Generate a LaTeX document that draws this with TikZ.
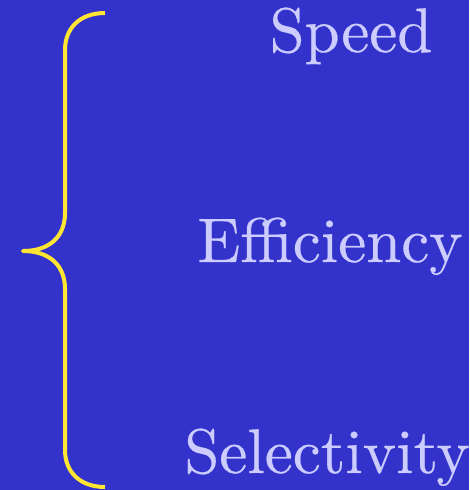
\documentclass[tikz,border=0pt]{standalone}
\usepackage{fontspec}
\newfontfamily\lmx{lmroman10-regular.otf}[FakeBold=0.4]
\definecolor{bgblue}{RGB}{51,51,204}
\definecolor{braceyellow}{RGB}{255,230,51}
\definecolor{txtlav}{RGB}{204,204,255}
\begin{document}
\begin{tikzpicture}[x=1pt,y=1pt,
  lbl/.style={anchor=base,inner sep=0pt,text=txtlav,font=\lmx\fontsize{63}{70}\selectfont},
  bracestyle/.style={draw=braceyellow,line width=4pt,line join=round}]
\fill[bgblue] (0,0) rectangle (469,490);
\useasboundingbox (0,0) rectangle (469,490);
\node[lbl] (speed) at (351,438) {Speed};
\node[lbl] (eff) at (330,228) {Efficiency};
\node[lbl] (sel) at (327,17) {Selectivity};
\coordinate (btop) at (105,477);
\coordinate (btip) at (23,239);
\coordinate (bbot) at (105,3);
\draw[bracestyle] (btop) .. controls (80,477) and (65,462) .. (65,440)
  -- (65,277) .. controls (65,252) and (48,239) .. (btip)
  .. controls (48,239) and (65,226) .. (65,201)
  -- (65,40) .. controls (65,18) and (80,3) .. (bbot);
\end{tikzpicture}
\end{document}
